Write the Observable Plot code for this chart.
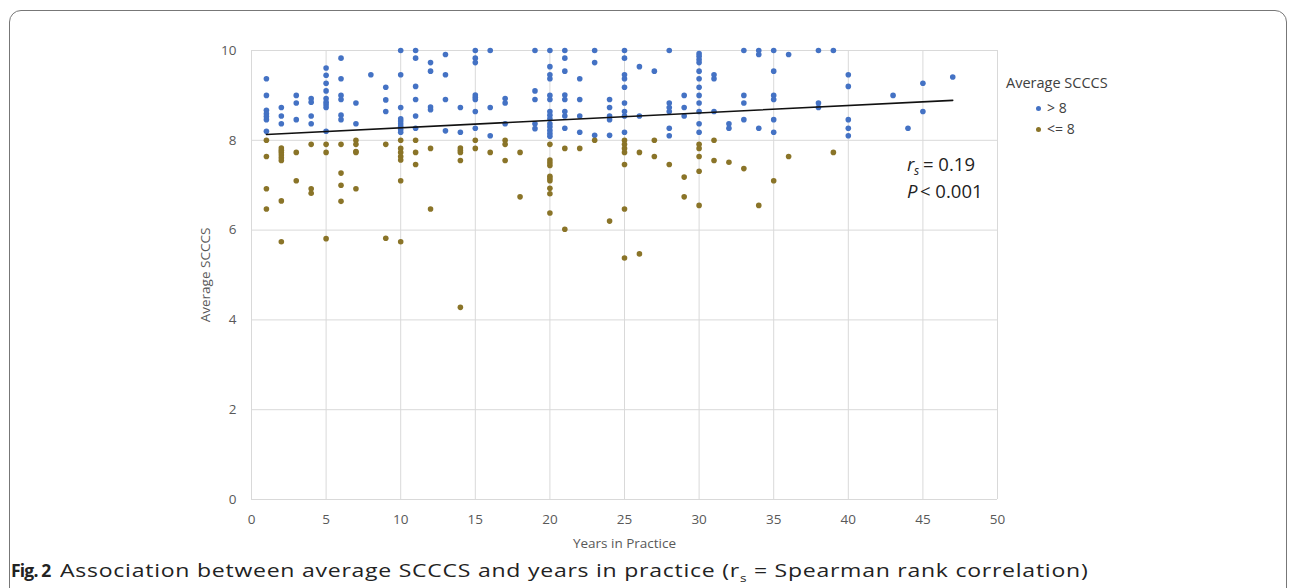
<!DOCTYPE html>
<html>
<head>
<meta charset="utf-8">
<script src="https://cdn.jsdelivr.net/npm/d3@7"></script>
<script src="https://cdn.jsdelivr.net/npm/@observablehq/plot@0.6"></script>
<style>
  html, body { margin: 0; padding: 0; background: #fff; }
  body { width: 1293px; height: 588px; position: relative; overflow: hidden; font-family: "Open Sans", "Noto Sans", sans-serif; }
  #frame { position: absolute; left: 9px; top: 10px; width: 1278px; height: 640px; border: 1.5px solid #777; border-radius: 12px; box-sizing: border-box; }
  #chart { position: absolute; left: 0; top: 0; }
  #legend { position: absolute; left: 1006px; top: 73px; color: #404040; font-size: 14.5px; }
  #legend .title { margin-bottom: 5px; }
  #legend .item { position: relative; padding-left: 41px; font-size: 14px; line-height: 21px; }
  #legend .item span { position: absolute; left: 30px; top: 8.5px; width: 5px; height: 5px; border-radius: 50%; }
  #caption { position: absolute; left: 11px; top: 557px; font-size: 18.5px; color: #222; font-family: "Open Sans", sans-serif; white-space: nowrap; line-height: 26px; }
  #caption b { font-weight: 700; letter-spacing: -0.8px; font-size: 17.5px; }
  #capText { display: inline-block; margin-left: 9px; letter-spacing: 0.6px; transform-origin: 0 50%; }
</style>
</head>
<body>
<div id="frame"></div>
<div id="chart"></div>
<div id="legend"></div>
<div id="caption"><b>Fig. 2</b><span id="capText">Association between average SCCCS and years in practice (r<sub style="font-size:11px">s</sub> = Spearman rank correlation)</span></div>
<script>
const seriesNames = ["> 8", "<= 8"];
const seriesColors = ["#4472C4", "#8a7428"];

const highByYear = [
  [1, [9.37, 9.0, 8.67, 8.59, 8.53, 8.46, 8.2]],
  [2, [8.73, 8.54, 8.37]],
  [3, [9.0, 8.83, 8.46]],
  [4, [8.93, 8.85, 8.54, 8.37]],
  [5, [9.61, 9.45, 9.27, 9.10, 8.93, 8.85, 8.79, 8.73, 8.2]],
  [6, [9.83, 9.37, 9.0, 8.91, 8.56, 8.46]],
  [7, [8.83, 8.37]],
  [8, [9.46]],
  [9, [9.18, 8.90, 8.64]],
  [10, [10, 9.46, 8.73, 8.48, 8.43, 8.37, 8.31, 8.24, 8.18]],
  [11, [10, 9.83, 9.2, 8.91, 8.54, 8.27]],
  [12, [9.73, 9.54, 8.74, 8.68]],
  [13, [9.91, 9.46, 8.91, 8.21]],
  [14, [8.73, 8.18]],
  [15, [10, 9.83, 9.73, 9.01, 8.96, 8.91, 8.64, 8.27]],
  [16, [10, 8.73, 8.10]],
  [17, [8.93, 8.83, 8.37]],
  [19, [10, 9.10, 8.91, 8.37, 8.26]],
  [20, [10, 9.64, 9.46, 9.37, 9.0, 8.91, 8.64, 8.56, 8.48, 8.37, 8.30, 8.22, 8.15, 8.09]],
  [21, [10, 9.83, 9.54, 9.01, 8.91, 8.64, 8.54, 8.27]],
  [22, [9.37, 8.91, 8.54, 8.18]],
  [23, [10, 9.73, 8.11]],
  [24, [8.91, 8.73, 8.54, 8.46, 8.11]],
  [25, [10, 9.83, 9.46, 9.37, 9.18, 8.83, 8.64, 8.54, 8.18]],
  [26, [9.64, 8.54]],
  [27, [9.54]],
  [28, [10, 8.83, 8.73, 8.64, 8.27, 8.10]],
  [29, [9.0, 8.73, 8.54]],
  [30, [9.93, 9.87, 9.8, 9.73, 9.54, 9.37, 9.18, 9.0, 8.83, 8.64, 8.37, 8.18]],
  [31, [9.46, 9.37, 8.64]],
  [32, [8.37, 8.27]],
  [33, [10, 9.0, 8.83, 8.46]],
  [34, [10, 9.91, 8.27]],
  [35, [10, 9.54, 9.0, 8.91, 8.46, 8.18]],
  [36, [9.91]],
  [38, [10, 8.83, 8.73]],
  [39, [10]],
  [40, [9.46, 9.2, 8.46, 8.27, 8.10]],
  [43, [9.0]],
  [44, [8.27]],
  [45, [9.27, 8.64]],
  [47, [9.41]]
];

const lowByYear = [
  [1, [8.0, 7.64, 6.92, 6.47]],
  [2, [7.83, 7.78, 7.73, 7.67, 7.61, 7.55, 6.65, 5.74]],
  [3, [7.73, 7.10]],
  [4, [7.91, 6.92, 6.82]],
  [5, [7.91, 7.73, 5.81]],
  [6, [7.91, 7.27, 7.0, 6.64]],
  [7, [8.0, 7.91, 7.75, 7.73, 6.92]],
  [9, [7.91, 5.82]],
  [10, [8.0, 7.82, 7.73, 7.64, 7.56, 7.10, 5.74]],
  [11, [8.0, 7.73, 7.46]],
  [12, [7.82, 6.47]],
  [14, [7.83, 7.78, 7.73, 7.55, 4.28]],
  [15, [8.0, 7.82]],
  [16, [7.73]],
  [17, [8.0, 7.91, 7.55]],
  [18, [7.73, 6.74]],
  [20, [7.91, 7.56, 7.50, 7.44, 7.2, 7.15, 7.10, 6.93, 6.81, 6.38]],
  [21, [7.82, 6.02]],
  [22, [7.82]],
  [23, [8.0]],
  [24, [6.2]],
  [25, [8.0, 7.91, 7.82, 7.73, 7.46, 6.47, 5.38]],
  [26, [7.73, 5.47]],
  [27, [8.0, 7.64]],
  [28, [7.46]],
  [29, [7.18, 6.74]],
  [30, [7.91, 7.82, 7.64, 7.31, 6.55]],
  [31, [8.0, 7.55]],
  [32, [7.51]],
  [33, [7.37]],
  [34, [6.55]],
  [35, [7.10]],
  [36, [7.64]],
  [39, [7.73]]
];

const trendYears = [1, 47];
const trendScores = [8.13, 8.89];

const xTicks = [0, 5, 10, 15, 20, 25, 30, 35, 40, 45, 50];
const yTicks = [0, 2, 4, 6, 8, 10];

const points = [];
highByYear.forEach(([yr, vals]) => vals.forEach(v => points.push({years: yr, score: v, group: seriesNames[0]})));
lowByYear.forEach(([yr, vals]) => vals.forEach(v => points.push({years: yr, score: v, group: seriesNames[1]})));
const trend = trendYears.map((x, i) => ({years: x, score: trendScores[i]}));

const fontFam = "'Open Sans', 'Noto Sans', sans-serif";

const chart = Plot.plot({
  width: 1293,
  height: 555,
  marginLeft: 251,
  marginRight: 296,
  marginTop: 50,
  marginBottom: 56,
  style: {fontFamily: fontFam, fontSize: "13.5px", color: "#595959", background: "transparent"},
  x: {domain: [0, 50], ticks: xTicks},
  y: {domain: [0, 10], ticks: yTicks},
  color: {domain: seriesNames, range: seriesColors},
  marks: [
    Plot.gridX(xTicks, {stroke: "#d9d9d9", strokeOpacity: 1, strokeWidth: 1}),
    Plot.gridY(yTicks, {stroke: "#d9d9d9", strokeOpacity: 1, strokeWidth: 1}),
    Plot.axisX({ticks: xTicks, tickSize: 0, tickPadding: 15, label: "Years in Practice", labelAnchor: "center", labelArrow: "none", labelOffset: 48, fill: "#595959"}),
    Plot.axisY({ticks: yTicks, tickSize: 0, tickPadding: 15, label: "Average SCCCS", labelAnchor: "center", labelArrow: "none", labelOffset: 51, fill: "#595959"}),
    Plot.dot(points, {x: "years", y: "score", fill: "group", r: 2.8, stroke: null}),
    Plot.line(trend, {x: "years", y: "score", stroke: "#111", strokeWidth: 1.6}),
    Plot.text(["r"], {x: 44, y: 7.44, text: d => d, textAnchor: "start", fontStyle: "italic", fontSize: 18.5, fill: "#222", dx: -1}),
    Plot.text(["s"], {x: 44, y: 7.44, text: d => d, textAnchor: "start", fontStyle: "italic", fontSize: 12, fill: "#222", dx: 6, dy: 6}),
    Plot.text(["= 0.19"], {x: 44, y: 7.44, text: d => d, textAnchor: "start", fontSize: 18.5, fill: "#222", dx: 15}),
    Plot.text(["P"], {x: 44, y: 6.84, text: d => d, textAnchor: "start", fontStyle: "italic", fontSize: 18.5, fill: "#222", dx: -1}),
    Plot.text(["< 0.001"], {x: 44, y: 6.84, text: d => d, textAnchor: "start", fontSize: 18.5, fill: "#222", dx: 12})
  ]
});
document.getElementById("chart").appendChild(chart);

const legend = document.getElementById("legend");
const t = document.createElement("div");
t.className = "title";
t.textContent = "Average SCCCS";
legend.appendChild(t);
seriesNames.forEach((name, i) => {
  const it = document.createElement("div");
  it.className = "item";
  const sw = document.createElement("span");
  sw.style.background = seriesColors[i];
  it.appendChild(sw);
  it.appendChild(document.createTextNode(name));
  legend.appendChild(it);
});

// stretch caption text horizontally to the width seen in the reference (ends near x = 1088)
const cap = document.getElementById("capText");
const r = cap.getBoundingClientRect();
const target = 1088 - r.left;
cap.style.transform = "scaleX(" + (target / r.width) + ")";
</script>
</body>
</html>
